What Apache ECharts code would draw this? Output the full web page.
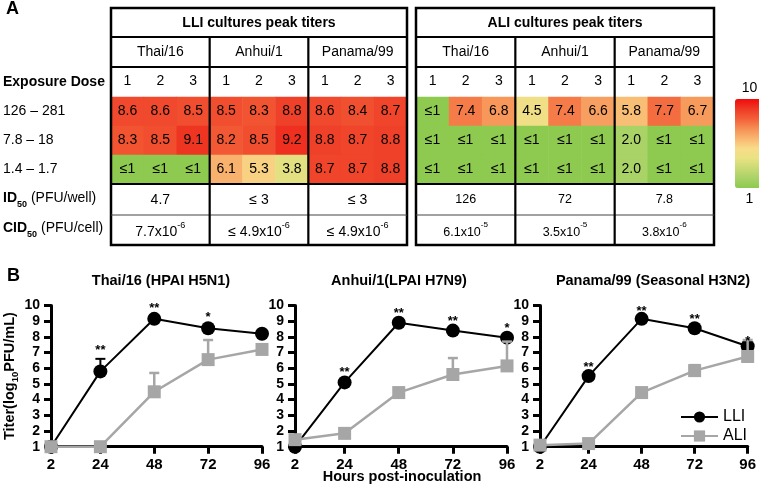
<!DOCTYPE html>
<html><head><meta charset="utf-8">
<script src="https://cdn.jsdelivr.net/npm/echarts@6/dist/echarts.min.js"></script>
<style>html,body{margin:0;padding:0;background:#fff}#c{width:759px;height:494px}</style>
</head><body><div id="c"></div>
<script>
// ---------- DATA ----------
const doseCols = ['1','2','3','1','2','3','1','2','3'];
const doseRows = ['126 – 281','7.8 – 18','1.4 – 1.7'];
const strains = ['Thai/16','Anhui/1','Panama/99'];
// peak titers (log10); value 1 is displayed as "≤1"
const lliRow1 = [8.6,8.6,8.5,8.5,8.3,8.8,8.6,8.4,8.7];
const lliRow2 = [8.3,8.5,9.1,8.2,8.5,9.2,8.8,8.7,8.8];
const lliRow3 = [1,1,1,6.1,5.3,3.8,8.7,8.7,8.8];
const aliRow1 = [1,7.4,6.8,4.5,7.4,6.6,5.8,7.7,6.7];
const aliRow2 = [1,1,1,1,1,1,2.0,1,1];
const aliRow3 = [1,1,1,1,1,1,2.0,1,1];
const id50LLI = ['4.7','≤ 3','≤ 3'];
const cid50LLI = [['7.7x10','-6'],['≤ 4.9x10','-6'],['≤ 4.9x10','-6']];
const id50ALI = ['126','72','7.8'];
const cid50ALI = [['6.1x10','-5'],['3.5x10','-5'],['3.8x10','-6']];

const hours = [2,24,48,72,96];
const hourTicks = [2,24,48,72,96];
const plotTitles = ['Thai/16 (HPAI H5N1)','Anhui/1(LPAI H7N9)','Panama/99 (Seasonal H3N2)'];
const thaiLLI = [1,5.8,9.15,8.55,8.2];
const thaiALI = [1,1,4.5,6.55,7.2];
const anhuiLLI = [1,5.1,8.9,8.4,7.95];
const anhuiALI = [1.45,1.85,4.45,5.6,6.15];
const panamaLLI = [1,5.5,9.15,8.55,7.4];
const panamaALI = [1.1,1.2,4.45,5.85,6.75];
const thaiLLIErr = [null,6.6,null,null,null];
const thaiALIErr = [null,null,5.7,7.8,null];
const anhuiLLIErr = [null,null,null,null,null];
const anhuiALIErr = [null,null,null,6.65,7.7];
const panamaLLIErr = [null,null,null,null,null];
const panamaALIErr = [null,null,null,6.2,7.8];
const thaiStars = ['','**','**','*',''];
const thaiStarY = [null,7.3,10.0,9.45,null];
const anhuiStars = ['','**','**','**','*'];
const anhuiStarY = [null,5.9,9.7,9.2,8.75];
const panamaStars = ['','**','**','**','*'];
const panamaStarY = [null,6.27,9.8,9.3,7.9];

// ---------- LAYOUT ----------
const FF = '"Liberation Sans", Arial, sans-serif';
const heatColors = ['#8dca4f','#a9d267','#c9da73','#e8e283','#f9dc8a','#f9b670','#f68f55','#f35f38','#ee3a25','#f20a0a'];

function heatData(rows){
  const out = [];
  rows.forEach((row, r) => row.forEach((v, c) => out.push([c, r, v])));
  return out;
}
const fmtCell = p => p.value[2] <= 1 ? '≤1' : p.value[2].toFixed(1);

const graphics = [];
function line(x1,y1,x2,y2,w,color){
  graphics.push({type:'line', z:100, shape:{x1,y1,x2,y2}, style:{stroke:color||'#000', lineWidth:w}});
}
function text(x,y,t,opt){
  opt = opt || {};
  graphics.push({type:'text', z:101, x, y, style:Object.assign({
    text:t, fill:'#000', fontFamily:FF, fontSize:14, fontWeight:'normal',
    align:'center', verticalAlign:'middle', textAlign:'center', textVerticalAlign:'middle'
  }, opt)});
}
const T = {top:8, title:37, strain:67, heatTop:97, heatBot:184, id:215, bot:245};
function table(x0, x1, title, idVals, cidVals, valSize){
  const w = (x1 - x0) / 3;
  graphics.push({type:'rect', z:100, shape:{x:x0, y:T.top, width:x1-x0, height:T.bot-T.top}, style:{fill:'none', stroke:'#000', lineWidth:2.5}});
  line(x0,T.title,x1,T.title,2.2);
  line(x0,T.strain,x1,T.strain,2.2);
  line(x0,T.heatBot,x1,T.heatBot,2.2);
  line(x0,T.id,x1,T.id,1,'#444');
  line(x0+w,T.title,x0+w,T.bot,2.2);
  line(x0+2*w,T.title,x0+2*w,T.bot,2.2);
  text((x0+x1)/2, 23, title, {fontWeight:'bold', fontSize:14});
  for (let i=0;i<3;i++){
    const cx = x0 + w*(i+0.5);
    text(cx, 52, strains[i], {fontSize:14});
    text(cx, 200, idVals[i], {fontSize:valSize});
    text(cx, 230, '{m|'+cidVals[i][0]+'}{s|'+cidVals[i][1]+'}', {
      rich:{m:{fontSize:valSize, fontFamily:FF, lineHeight:18, verticalAlign:'bottom'},
            s:{fontSize:valSize*0.65, fontFamily:FF, lineHeight:18, verticalAlign:'top'}}});
  }
}
table(111, 407, 'LLI cultures peak titers', id50LLI, cid50LLI, 14);
table(416, 714, 'ALI cultures peak titers', id50ALI, cid50ALI, 12.5);
text(6, 9, 'A', {fontWeight:'bold', fontSize:18, align:'left', textAlign:'left'});
text(3, 82, 'Exposure Dose', {fontWeight:'bold', fontSize:14, align:'left', textAlign:'left'});
text(3, 200, '{b|ID}{s|50}{n| (PFU/well)}', {align:'left', textAlign:'left', rich:{
  b:{fontWeight:'bold', fontSize:14, fontFamily:FF, lineHeight:18, verticalAlign:'top'},
  s:{fontWeight:'bold', fontSize:9, fontFamily:FF, lineHeight:18, verticalAlign:'bottom'},
  n:{fontSize:14, fontFamily:FF, lineHeight:18, verticalAlign:'top'}}});
text(3, 230, '{b|CID}{s|50}{n| (PFU/cell)}', {align:'left', textAlign:'left', rich:{
  b:{fontWeight:'bold', fontSize:14, fontFamily:FF, lineHeight:18, verticalAlign:'top'},
  s:{fontWeight:'bold', fontSize:9, fontFamily:FF, lineHeight:18, verticalAlign:'bottom'},
  n:{fontSize:14, fontFamily:FF, lineHeight:18, verticalAlign:'top'}}});
text(7, 276, 'B', {fontWeight:'bold', fontSize:18, align:'left', textAlign:'left'});
const plotCenters = [161, 399, 653];
plotTitles.forEach((t,i) => text(plotCenters[i], 281, t, {fontWeight:'bold', fontSize:14.5}));
text(402, 477, 'Hours post-inoculation', {fontWeight:'bold', fontSize:14.5});

// ---------- OPTION ----------
const grids = [
  {left:111, top:97, width:296, height:87},
  {left:416, top:97, width:298, height:87},
  {left:51, top:305.5, width:211, height:141.2},
  {left:295, top:305.5, width:212, height:141.2},
  {left:540, top:305.5, width:211, height:141.2}
];
const xAxes = [0,1].map(g => ({
  type:'category', gridIndex:g, data:doseCols, position:'top',
  axisLine:{show:false}, axisTick:{show:false}, splitLine:{show:false},
  axisLabel:{fontSize:14, color:'#000', fontFamily:FF, margin:9}
}));
const yAxes = [0,1].map(g => ({
  type:'category', gridIndex:g, data:doseRows, inverse:true,
  axisLine:{show:false}, axisTick:{show:false}, splitLine:{show:false},
  axisLabel:{show:g===0, fontSize:14, color:'#000', fontFamily:FF, align:'left', margin:108}
}));
[2,3,4].forEach(g => {
  xAxes.push({type:'value', gridIndex:g, min:2, max:96,
    axisLine:{show:true, onZero:false, lineStyle:{color:'#000', width:3}},
    axisTick:{show:true, customValues:hourTicks, length:7, lineStyle:{color:'#000', width:3}},
    axisLabel:{customValues:hourTicks, fontSize:15, fontWeight:'bold', color:'#000', fontFamily:FF, margin:11},
    splitLine:{show:false}});
  const ya = {type:'value', gridIndex:g, min:1, max:10, interval:1,
    axisLine:{show:true, onZero:false, lineStyle:{color:'#000', width:3}},
    axisTick:{show:true, length:7, lineStyle:{color:'#000', width:3}},
    axisLabel:{fontSize:14, fontWeight:'bold', color:'#000', fontFamily:FF, margin:11},
    splitLine:{show:false}};
  if (g === 2) {
    ya.name = '{a|Titer(log}{s|10}{a|PFU/mL)}';
    ya.nameLocation = 'middle';
    ya.nameGap = 29;
    ya.nameTextStyle = {rich:{
      a:{fontSize:14.5, fontWeight:'bold', fontFamily:FF, color:'#000', lineHeight:18, verticalAlign:'top'},
      s:{fontSize:9.5, fontWeight:'bold', fontFamily:FF, color:'#000', lineHeight:18, verticalAlign:'bottom'}}};
  }
  yAxes.push(ya);
});

const series = [
  {type:'heatmap', xAxisIndex:0, yAxisIndex:0, data:heatData([lliRow1,lliRow2,lliRow3]),
   label:{show:true, formatter:fmtCell, fontSize:14, color:'#000', fontFamily:FF},
   emphasis:{disabled:true}},
  {type:'heatmap', xAxisIndex:1, yAxisIndex:1, data:heatData([aliRow1,aliRow2,aliRow3]),
   label:{show:true, formatter:fmtCell, fontSize:14, color:'#000', fontFamily:FF},
   emphasis:{disabled:true}}
];

const plots = [
  {lli:thaiLLI, ali:thaiALI, lliErr:thaiLLIErr, aliErr:thaiALIErr, stars:thaiStars, starY:thaiStarY},
  {lli:anhuiLLI, ali:anhuiALI, lliErr:anhuiLLIErr, aliErr:anhuiALIErr, stars:anhuiStars, starY:anhuiStarY},
  {lli:panamaLLI, ali:panamaALI, lliErr:panamaLLIErr, aliErr:panamaALIErr, stars:panamaStars, starY:panamaStarY}
];
const GRAY = '#a6a6a6';
function errSeries(ax, means, tops, color, width, z){
  const data = [];
  hours.forEach((h,i) => { if (tops[i] != null) data.push([h, means[i], tops[i]]); });
  return {type:'custom', xAxisIndex:ax, yAxisIndex:ax, z, silent:true, data,
    encode:{x:0, y:[1,2]},
    renderItem:(params, api) => {
      const p0 = api.coord([api.value(0), api.value(1)]);
      const p1 = api.coord([api.value(0), api.value(2)]);
      const st = {stroke:color, lineWidth:width};
      return {type:'group', children:[
        {type:'line', shape:{x1:p0[0], y1:p0[1], x2:p1[0], y2:p1[1]}, style:st},
        {type:'line', shape:{x1:p1[0]-5, y1:p1[1], x2:p1[0]+5, y2:p1[1]}, style:st}
      ]};
    }};
}
plots.forEach((p, k) => {
  const ax = k + 2;
  series.push(errSeries(ax, p.lli, p.lliErr, '#000', 2, 2));
  series.push({type:'line', name:'LLI', xAxisIndex:ax, yAxisIndex:ax, z:3,
    data:hours.map((h,i)=>[h,p.lli[i]]), symbol:'circle', symbolSize:14, clip:false,
    lineStyle:{color:'#000', width:2}, itemStyle:{color:'#000'}, emphasis:{disabled:true}});
  series.push(errSeries(ax, p.ali, p.aliErr, GRAY, 2.5, 4));
  series.push({type:'line', name:'ALI', xAxisIndex:ax, yAxisIndex:ax, z:5,
    data:hours.map((h,i)=>[h,p.ali[i]]), symbol:'rect', symbolSize:13, clip:false,
    lineStyle:{color:GRAY, width:2.5}, itemStyle:{color:GRAY}, emphasis:{disabled:true}});
  const sd = [];
  hours.forEach((h,i) => { if (p.starY[i] != null) sd.push([h, p.starY[i], i]); });
  series.push({type:'custom', xAxisIndex:ax, yAxisIndex:ax, z:6, silent:true, data:sd,
    encode:{x:0, y:1},
    renderItem:(params, api) => {
      const c = api.coord([api.value(0), api.value(1)]);
      return {type:'text', x:c[0], y:c[1]+3, style:{text:p.stars[api.value(2)], fill:'#000',
        font:'bold 13px ' + FF, align:'center', verticalAlign:'middle'}};
    }});
});

const option = {
  animation:false,
  grid:grids, xAxis:xAxes, yAxis:yAxes,
  visualMap:{type:'continuous', min:1, max:10, seriesIndex:[0,1], calculable:false, hoverLink:false,
    orient:'vertical', left:720, top:66, itemWidth:29, itemHeight:89, text:['10','1'], textGap:4,
    textStyle:{fontSize:14, color:'#000', fontFamily:FF}, inRange:{color:heatColors}},
  legend:{data:['LLI','ALI'], orient:'vertical', left:675, top:404, itemWidth:37, itemHeight:14, itemGap:3,
    textStyle:{fontSize:16, color:'#000', fontFamily:FF}, selectedMode:false},
  series:series,
  graphic:graphics
};
const chart = echarts.init(document.getElementById('c'), null, {renderer:'canvas'});
chart.setOption(option);
</script>
</body></html>
